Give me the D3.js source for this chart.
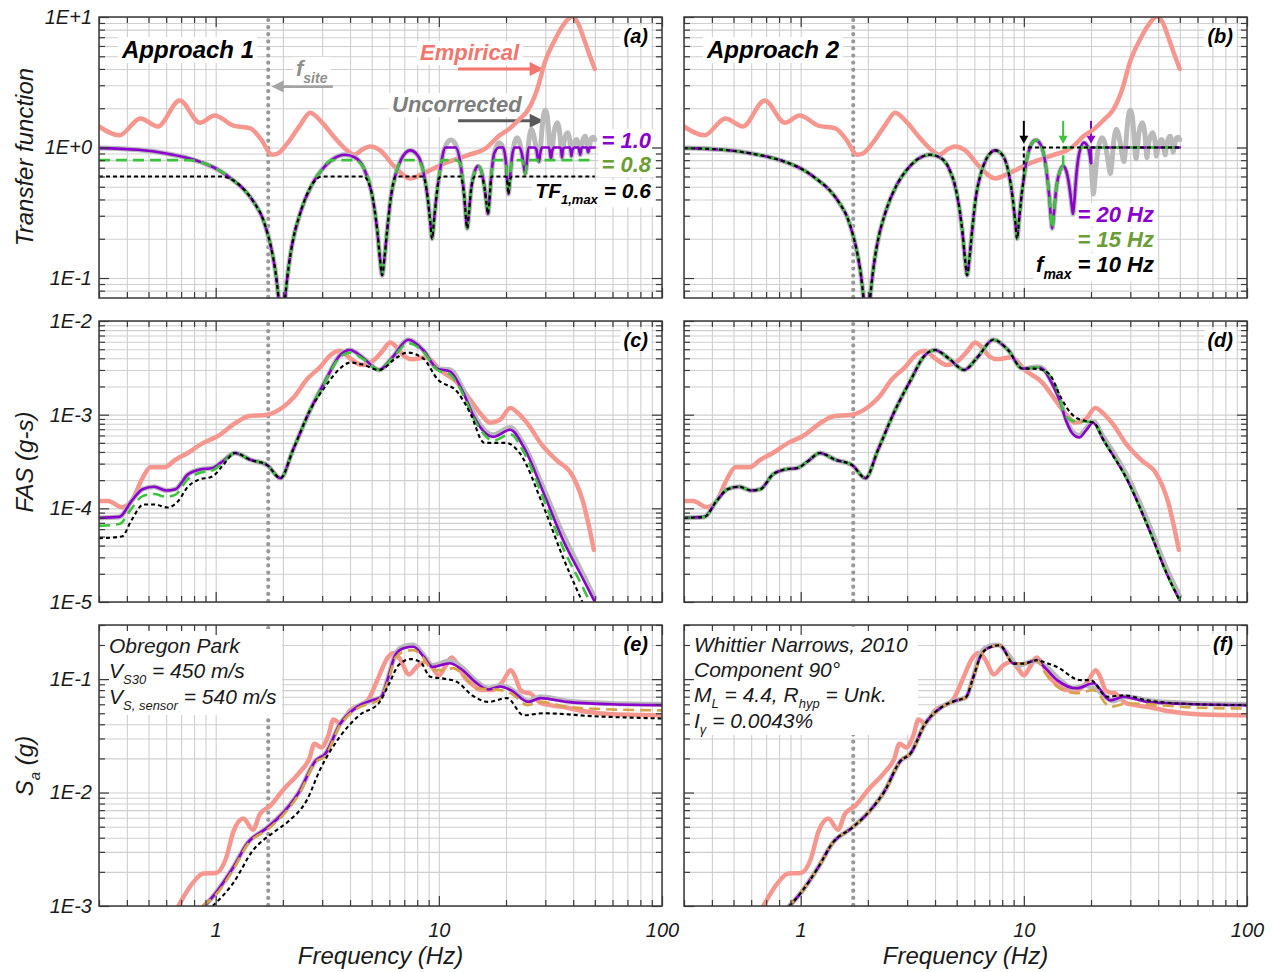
<!DOCTYPE html>
<html>
<head>
<meta charset="utf-8">
<script src="https://cdn.jsdelivr.net/npm/d3@7"></script>
<style>
  body { margin: 0; background: #fff; }
  svg text { font-family: "Liberation Sans", Arial, sans-serif; font-style: italic; }
</style>
</head>
<body>
<svg id="chart" width="1274" height="972"></svg>
<script>
// ---------------- data (frequency in Hz, value) ----------------
var fSite = 1.72;
var tfMaxLevels = [1.0, 0.8, 0.6];   // approach 1
var fMaxLevels = [20, 15, 10];       // approach 2

var tfEmpirical = [[0.3,1.45],[0.37,1.24],[0.46,1.67],[0.55,1.45],[0.69,2.29],[0.85,1.55],[0.99,1.76],[1.2,1.47],
  [1.43,1.4],[1.6,1.15],[1.79,0.88],[1.9,0.9],[2.09,1.07],[2.4,1.5],[2.65,1.85],[3.02,1.53],[3.4,1.2],[3.88,0.95],
  [4.17,0.88],[4.6,0.98],[4.92,1.02],[5.46,0.95],[6.3,0.72],[7.44,0.58],[8.5,0.63],[10.5,0.75],[13.4,0.87],
  [16.4,1.0],[18.5,1.22],[21,1.42],[23,1.65],[25,1.92],[27.5,2.75],[30,4.6],[33,6.6],[36,8.6],[39.6,10.1],
  [42,9.0],[44.4,7.0],[47,5.3],[50,4.0]];

var tfUncorrected = [[0.3,0.99],[0.45,0.96],[0.6,0.9],[0.75,0.83],[0.9,0.75],[1.05,0.66],[1.2,0.56],[1.35,0.47],
  [1.5,0.37],[1.62,0.29],[1.72,0.21],[1.8,0.15],[1.87,0.1],[1.92,0.065],[1.96,0.04],[2.0,0.045],[2.05,0.072],
  [2.12,0.12],[2.2,0.18],[2.4,0.32],[2.7,0.52],[3.0,0.68],[3.3,0.8],[3.8,0.88],[4.2,0.84],[4.6,0.7],[5.0,0.45],
  [5.3,0.23],[5.45,0.14],[5.57,0.105],[5.7,0.14],[5.85,0.22],[6.1,0.42],[6.4,0.62],[6.8,0.82],[7.45,0.95],
  [8.0,0.88],[8.5,0.67],[8.9,0.42],[9.15,0.27],[9.33,0.2],[9.5,0.27],[9.8,0.45],[10.0,0.58],[10.3,0.8],
  [10.7,1.02],[11.3,1.14],[11.9,1.05],[12.5,0.75],[13.0,0.42],[13.25,0.28],[13.4,0.24],[13.6,0.3],[14.0,0.5],
  [14.5,0.66],[15.0,0.72],[15.5,0.66],[16.0,0.5],[16.4,0.36],[16.6,0.31],[16.8,0.37],[17.2,0.62],[17.7,0.9],
  [18.6,1.09],[19.4,1.0],[20.0,0.76],[20.3,0.52],[20.5,0.44],[20.8,0.56],[21.3,0.86],[21.8,1.08],[22.4,1.19],
  [23.0,1.1],[23.6,0.88],[24.1,0.7],[24.4,0.63],[24.7,0.72],[25.2,1.05],[25.6,1.28],[26.0,1.38],[26.6,1.25],
  [27.3,0.98],[27.8,0.82],[28.1,0.78],[28.4,0.88],[28.9,1.3],[29.5,1.8],[30.0,1.94],[30.6,1.75],[31.2,1.2],
  [31.8,0.82],[32.2,0.95],[32.8,1.3],[33.9,1.55],[34.8,1.3],[35.3,0.98],[35.6,0.84],[36.0,0.98],[36.8,1.2],
  [37.8,1.3],[38.6,1.15],[39.0,0.95],[39.3,0.86],[39.7,0.96],[40.5,1.1],[41.5,1.15],[42.3,1.05],[43.0,0.88],
  [43.6,1.02],[44.5,1.18],[45.3,1.22],[46.1,1.08],[46.7,0.92],[47.3,1.02],[48.3,1.18],[49.3,1.2],[50,1.15]];

var fasEmpirical = [[0.3,1.2e-4],[0.33,1.2e-4],[0.38,1.03e-4],[0.42,1.2e-4],[0.47,2.1e-4],[0.51,2.75e-4],
  [0.59,2.75e-4],[0.66,3.3e-4],[0.75,3.9e-4],[0.88,5.0e-4],[1.01,5.8e-4],[1.25,8.4e-4],[1.4,9.6e-4],[1.7,1.0e-3],
  [2.0,1.2e-3],[2.25,1.55e-3],[2.57,2.4e-3],[2.93,3.2e-3],[3.3,4.4e-3],[3.6,4.8e-3],[4.0,4.0e-3],[4.5,3.4e-3],
  [5.1,3.8e-3],[5.6,4.8e-3],[6.05,5.9e-3],[6.5,5.2e-3],[7.0,4.2e-3],[7.6,3.9e-3],[8.8,4.1e-3],[10.1,3.0e-3],
  [12.1,2.2e-3],[13.8,1.45e-3],[15.5,1.0e-3],[17.0,8.2e-4],[18.9,8.9e-4],[20.9,1.18e-3],[23,1.0e-3],
  [25.5,7.5e-4],[28.5,5.0e-4],[34,3.2e-4],[38.5,2.5e-4],[41.5,1.8e-4],[44.4,1.15e-4],[47,6.5e-5],[49.5,3.6e-5]];

// shared pieces of the corrected FAS curves
var fasLowFull = [[0.3,7.9e-5],[0.37,8.1e-5],[0.42,1.2e-4],[0.47,1.6e-4],[0.53,1.7e-4],[0.6,1.55e-4],
  [0.66,1.6e-4],[0.75,2.3e-4],[0.85,2.6e-4],[0.97,2.7e-4],[1.08,3.2e-4],[1.22,3.9e-4]];
var fasLow08 = [[0.3,6.5e-5],[0.37,6.8e-5],[0.42,1.0e-4],[0.47,1.35e-4],[0.53,1.42e-4],[0.6,1.33e-4],
  [0.66,1.4e-4],[0.75,2.05e-4],[0.85,2.4e-4],[0.97,2.55e-4],[1.08,3.1e-4],[1.22,3.9e-4]];
var fasLow06 = [[0.3,4.8e-5],[0.38,5.0e-5],[0.42,7.5e-5],[0.475,1.1e-4],[0.53,1.1e-4],[0.61,1.02e-4],
  [0.68,1.2e-4],[0.75,1.7e-4],[0.83,2.0e-4],[0.97,2.2e-4],[1.08,2.9e-4],[1.22,3.9e-4]];
var fasMid = [[1.43,3.3e-4],[1.7,2.9e-4],[1.95,2.1e-4],[2.22,4.2e-4],[2.65,1.12e-3]];
var fasPeakFull = [[3.1,2.3e-3],[3.6,4.3e-3],[4.0,4.9e-3],[4.6,4.0e-3],[5.4,3.0e-3],[6.2,4.1e-3],
  [7.3,6.3e-3],[8.5,4.9e-3],[9.85,3.1e-3]];

var fasA1Tf10High = [[11.2,2.9e-3],[12.9,1.7e-3],[14.2,1.0e-3],[15.3,7.4e-4],[17.5,5.8e-4],[20.9,6.9e-4],
  [24,4.5e-4],[29.5,1.45e-4],[36,4.6e-5],[44.4,1.74e-5],[50,1.0e-5]];
var fasA1Tf08High = [[3.1,2.25e-3],[3.6,4.1e-3],[4.0,4.6e-3],[4.6,3.9e-3],[5.4,3.0e-3],[6.2,4.0e-3],
  [7.3,5.8e-3],[8.5,4.7e-3],[9.85,3.0e-3],[11.2,2.7e-3],[12.9,1.6e-3],[14.2,9.5e-4],[15.3,7.0e-4],
  [17.5,5.3e-4],[20.9,6.2e-4],[24,4.0e-4],[29.5,1.25e-4],[36,3.8e-5],[44.4,1.4e-5],[47.5,1.0e-5]];
var fasA1Tf06High = [[3.1,2.0e-3],[3.6,3.1e-3],[4.0,3.6e-3],[4.6,3.4e-3],[5.4,3.0e-3],[6.5,4.1e-3],
  [7.2,4.6e-3],[8.5,4.0e-3],[9.85,2.4e-3],[12.1,1.75e-3],[13.8,1.05e-3],[16,5.0e-4],[20,5.0e-4],
  [23,3.9e-4],[29.5,1.03e-4],[36,3.0e-5],[44,1.0e-5]];
var fasUncorrHighC = [[11.2,3.02e-3],[12.9,1.82e-3],[14.2,1.07e-3],[15.3,7.8e-4],[17.5,6.1e-4],
  [20.9,7.3e-4],[24,4.8e-4],[29.5,1.62e-4],[36,5.3e-5],[44.4,1.95e-5],[50,1.1e-5]];

var fasA2Tail = [[22.7,5.4e-4],[29.1,2.0e-4],[36.9,5.5e-5],[43.5,2.05e-5],[49.8,1.05e-5]];
var fasA2F20High = [[11.6,3.2e-3],[12.3,3.0e-3],[13.3,2.2e-3],[14.5,1.4e-3],[15.5,8.5e-4],[16.5,6.3e-4],
  [17.7,5.7e-4],[19,6.8e-4],[20.4,8.2e-4]];
var fasA2F15High = [[11.6,3.2e-3],[12.3,3.0e-3],[13.7,2.2e-3],[15.5,9.5e-4],[17,8.5e-4],[19.6,8.4e-4],
  [20.6,8.2e-4]];
var fasA2F10High = [[11.0,3.1e-3],[12.1,3.0e-3],[13.2,2.6e-3],[14.6,1.55e-3],[16.9,9.5e-4],[19.6,8.4e-4],
  [20.6,8.2e-4]];
var fasUncorrHighD = [[11.6,3.25e-3],[12.3,3.05e-3],[13.3,2.25e-3],[14.5,1.45e-3],[15.5,8.8e-4],
  [16.5,6.6e-4],[17.7,6.0e-4],[19,7.1e-4],[20.4,8.5e-4],[22.7,5.8e-4],[29.1,2.2e-4],[36.9,6.2e-5],
  [43.5,2.3e-5],[50,1.15e-5]];

var saEmpirical = [[0.68,1.0e-3],[0.79,1.6e-3],[0.88,1.93e-3],[1.0,1.95e-3],[1.11,2.6e-3],[1.2,4.5e-3],
  [1.33,5.9e-3],[1.47,4.7e-3],[1.58,6.5e-3],[1.75,7.6e-3],[2.0,1.05e-2],[2.37,1.5e-2],[2.63,2.0e-2],
  [2.77,2.7e-2],[2.97,2.5e-2],[3.2,3.2e-2],[3.37,4.4e-2],[3.6,4.1e-2],[4.0,5.3e-2],[4.8,6.5e-2],[5.3,9.8e-2],
  [5.9,0.155],[6.3,0.17],[6.7,0.15],[7.35,0.11],[8.0,0.13],[8.8,0.142],[9.4,0.125],[10,0.108],[10.7,0.13],
  [11.4,0.155],[12,0.14],[13,0.105],[14.3,0.088],[15.5,0.08],[17.3,0.08],[19.3,0.095],[21.0,0.12],
  [22.2,0.1],[23.2,0.08],[24.5,0.076],[25.7,0.075],[27,0.068],[28.5,0.062],[31.5,0.059],[37.6,0.056],
  [45,0.052],[60,0.049],[100,0.048]];
var saLow = [[0.89,1.0e-3],[1.0,1.3e-3],[1.2,2.2e-3],[1.39,3.6e-3],[1.7,4.9e-3],[2.0,6.6e-3],[2.37,1.02e-2],
  [2.8,1.9e-2],[3.1,2.2e-2],[3.6,4.0e-2],[4.3,5.7e-2],[5.0,6.5e-2],[5.5,6.9e-2]];
var saA1Tf10High = [[5.9,0.1],[6.4,0.165],[7.0,0.188],[7.7,0.193],[8.5,0.16],[9.4,0.128],[11.2,0.138],
  [12.5,0.124],[14.8,0.092],[16.7,0.081],[18.8,0.086],[21,0.08],[25.2,0.063],[28.5,0.068],[37.6,0.063],
  [60,0.06],[100,0.059]];
var saA1Tf08 = [[0.87,1.0e-3],[1.0,1.25e-3],[1.2,2.1e-3],[1.39,3.5e-3],[1.7,4.7e-3],[2.0,6.3e-3],
  [2.37,9.8e-3],[2.8,1.85e-2],[3.1,2.1e-2],[3.6,3.9e-2],[4.3,5.5e-2],[5.4,6.6e-2],[5.9,9.4e-2],[6.4,0.155],
  [7.0,0.175],[7.7,0.18],[8.5,0.155],[9.4,0.12],[10.5,0.12],[11.6,0.125],[12.5,0.115],[14.8,0.083],
  [18.8,0.08],[21,0.075],[25,0.059],[28.5,0.063],[37.6,0.057],[60,0.054],[100,0.053]];
var saA1Tf06 = [[0.97,1.0e-3],[1.2,1.6e-3],[1.47,3.1e-3],[1.8,4.4e-3],[2.1,5.5e-3],[2.57,8.7e-3],
  [2.93,1.58e-2],[3.6,3.1e-2],[4.4,4.8e-2],[5.4,6.2e-2],[6.0,9.2e-2],[6.6,0.133],[7.5,0.15],[8.25,0.142],
  [9.15,0.105],[10.5,0.101],[12.0,0.095],[14.1,0.072],[16.7,0.063],[20.2,0.068],[24,0.048],[29.5,0.05],
  [50,0.047],[100,0.045]];
var saA2Peak = [[5.9,0.1],[6.4,0.16],[7.0,0.19],[7.8,0.199],[9.0,0.137],[10.0,0.137],[11.4,0.147]];
var saA2F20High = [[12.5,0.125],[14.1,0.098],[17.3,0.083],[20.5,0.092],[24.4,0.065],[28,0.07],[35.6,0.063],
  [60,0.06],[100,0.059]];
var saA2F15High = [[12.5,0.112],[14.1,0.086],[17.3,0.075],[20.5,0.08],[24.4,0.057],[28.8,0.061],[60,0.056],
  [100,0.055]];
var saA2F10High = [[12.5,0.14],[14.1,0.128],[17.9,0.098],[19.9,0.098],[23.6,0.07],[28,0.072],[35.6,0.065],
  [60,0.06],[100,0.059]];
var saUncorrHigh = [[5.9,0.1],[6.4,0.168],[7.0,0.195],[7.7,0.2],[8.5,0.165],[9.4,0.132],[11.2,0.145],
  [12.5,0.13],[14.8,0.095],[16.7,0.083],[18.8,0.088],[21,0.082],[25.2,0.064],[28.5,0.07],[37.6,0.064],
  [60,0.061],[100,0.06]];

// ---------------- layout ----------------
var svg = d3.select("#chart");
var xDomain = [0.3, 100];
var colLeft = [99, 684], plotW = 563;
var rowTop = [17, 321, 625], plotH = 281;
var yDomains = [[0.0703, 10], [1e-5, 1e-2], [1e-3, 0.3]];

var col = { emp: "#f5968f", unc: "#bababa", purple: "#8a00cc", green: "#3cc43c", black: "#000",
            tan: "#d6a24a", oliveText: "#6b9e34", empText: "#f2756e", uncText: "#7d7d7d" };
var st = {
  emp:    { c: col.emp, w: 4.5 },
  unc:    { c: col.unc, w: 5 },
  purple: { c: col.purple, w: 2.6 },
  green:  { c: col.green, w: 2.6, dash: "11,6" },
  tan:    { c: col.tan, w: 2.6, dash: "11,6" },
  black:  { c: col.black, w: 2.1, dash: "4,3" }
};

var defs = svg.append("defs");
var layers = {};
["grid", "annot", "curves", "frame", "text"].forEach(function (n) { layers[n] = svg.append("g"); });

function logTicks(dom) {
  var out = [];
  var lo = Math.floor(Math.log10(dom[0])), hi = Math.ceil(Math.log10(dom[1]));
  for (var e = lo; e <= hi; e++) for (var k = 1; k <= 9; k++) {
    var v = +(k * Math.pow(10, e)).toPrecision(6);
    if (v >= dom[0] * 0.9999 && v <= dom[1] * 1.0001) out.push(v);
  }
  return out;
}
function isDecade(v) { var l = Math.log10(v); return Math.abs(l - Math.round(l)) < 1e-6; }
function eLabel(v) { var e = Math.round(Math.log10(v)); return "1E" + (e >= 0 ? "+" : "-") + Math.abs(e); }

function makePanel(c, r, name) {
  var p = { ox: colLeft[c], oy: rowTop[r] };
  p.x = d3.scaleLog().domain(xDomain).range([0, plotW]);
  p.y = d3.scaleLog().domain(yDomains[r]).range([plotH, 0]);
  p.px = function (f) { return p.ox + p.x(f); };
  p.py = function (v) { return p.oy + p.y(v); };
  var tr = "translate(" + p.ox + "," + p.oy + ")";
  defs.append("clipPath").attr("id", "clip-" + name).append("rect").attr("width", plotW).attr("height", plotH);

  var xt = logTicks(xDomain), yt = logTicks(p.y.domain());
  var grid = layers.grid.append("g").attr("transform", tr);
  grid.append("g").attr("transform", "translate(0," + plotH + ")")
    .call(d3.axisBottom(p.x).tickValues(xt).tickSize(-plotH).tickFormat(""));
  grid.append("g").call(d3.axisLeft(p.y).tickValues(yt).tickSize(-plotW).tickFormat(""));
  grid.selectAll(".domain").remove();
  grid.selectAll("line").attr("stroke", "#cfcfcf").attr("stroke-width", 1.1);

  // f_site dotted line
  grid.append("line").attr("x1", p.x(fSite)).attr("x2", p.x(fSite)).attr("y1", 3).attr("y2", plotH)
    .attr("stroke", "#999").attr("stroke-width", 4.2).attr("stroke-linecap", "round")
    .attr("stroke-dasharray", "0.1,7");

  p.curves = layers.curves.append("g").attr("transform", tr).attr("clip-path", "url(#clip-" + name + ")");

  var fr = layers.frame.append("g").attr("transform", tr);
  [[xt.filter(isDecade), 10], [xt.filter(function (v) { return !isDecade(v); }), 6]].forEach(function (s) {
    fr.append("g").attr("transform", "translate(0," + plotH + ")")
      .call(d3.axisBottom(p.x).tickValues(s[0]).tickSize(-s[1]).tickFormat(""));
    fr.append("g").call(d3.axisTop(p.x).tickValues(s[0]).tickSize(-s[1]).tickFormat(""));
  });
  [[yt.filter(isDecade), 10], [yt.filter(function (v) { return !isDecade(v); }), 6]].forEach(function (s) {
    fr.append("g").call(d3.axisLeft(p.y).tickValues(s[0]).tickSize(-s[1]).tickFormat(""));
    fr.append("g").attr("transform", "translate(" + plotW + ",0)")
      .call(d3.axisRight(p.y).tickValues(s[0]).tickSize(-s[1]).tickFormat(""));
  });
  fr.selectAll(".domain").remove();
  fr.selectAll("line").attr("stroke", "#3a3a3a").attr("stroke-width", 1.2);
  fr.append("rect").attr("width", plotW).attr("height", plotH).attr("fill", "none")
    .attr("stroke", "#3a3a3a").attr("stroke-width", 1.5);

  var tx = layers.text.append("g").attr("transform", tr);
  if (c === 0) {
    var ya = tx.append("g").call(d3.axisLeft(p.y).tickValues(yt.filter(isDecade)).tickSize(0).tickPadding(7).tickFormat(eLabel));
    ya.select(".domain").remove();
    ya.attr("font-size", 20).attr("font-family", null);
    ya.selectAll("text").attr("fill", "#1a1a1a");
  }
  if (r === 2) {
    var xa = tx.append("g").attr("transform", "translate(0," + plotH + ")")
      .call(d3.axisBottom(p.x).tickValues([1, 10, 100]).tickSize(0).tickPadding(17).tickFormat(d3.format("d")));
    xa.select(".domain").remove();
    xa.attr("font-size", 20).attr("font-family", null);
    xa.selectAll("text").attr("fill", "#1a1a1a");
    tx.append("text").attr("x", plotW / 2).attr("y", plotH + 58).attr("text-anchor", "middle")
      .attr("font-size", 24).attr("fill", "#1a1a1a").text("Frequency (Hz)");
  }
  return p;
}

function drawLine(p, data, s, linear) {
  var line = d3.line().x(function (d) { return p.x(d[0]); }).y(function (d) { return p.y(d[1]); })
    .curve(linear ? d3.curveLinear : d3.curveMonotoneX);
  p.curves.append("path").datum(data).attr("d", line).attr("fill", "none")
    .attr("stroke", s.c).attr("stroke-width", s.w).attr("stroke-linejoin", "round")
    .attr("stroke-linecap", s.dash ? "butt" : "round").attr("stroke-dasharray", s.dash || null);
}

// text with optional subscripts: parts = [[text, isSub], ...]
function label(parent, x, y, parts, o) {
  var t = parent.append("text").attr("x", x).attr("y", y).attr("font-size", o.size)
    .attr("font-weight", o.bold ? "bold" : "normal").attr("fill", o.color || "#000")
    .attr("text-anchor", o.anchor || "start");
  var shift = 0;
  parts.forEach(function (pt) {
    var ts = t.append("tspan").text(pt[0]);
    if (pt[1]) { ts.attr("font-size", Math.round(o.size * 0.64)).attr("dy", o.size * 0.3 - shift); shift = o.size * 0.3; }
    else if (shift) { ts.attr("dy", -shift); shift = 0; }
  });
  if (o.bg) {
    var b = t.node().getBBox();
    parent.insert("rect", function () { return t.node(); })
      .attr("x", b.x - 3).attr("y", b.y + 1).attr("width", b.width + 6).attr("height", b.height - 1).attr("fill", "#fff");
  }
  return t;
}

function arrow(x1, y1, x2, y2, color, w, hl, hw) {
  var dx = x2 - x1, dy = y2 - y1, L = Math.sqrt(dx * dx + dy * dy), ux = dx / L, uy = dy / L;
  var bx = x2 - ux * hl, by = y2 - uy * hl;
  layers.annot.append("line").attr("x1", x1).attr("y1", y1).attr("x2", bx + ux).attr("y2", by + uy)
    .attr("stroke", color).attr("stroke-width", w);
  layers.annot.append("path").attr("fill", color)
    .attr("d", "M" + x2 + "," + y2 + "L" + (bx - uy * hw) + "," + (by + ux * hw) + "L" + (bx + uy * hw) + "," + (by - ux * hw) + "Z");
}

var A = layers.annot;
function panelTag(p, s) {
  label(A, p.ox + plotW - 14, p.oy + 26, [[s]], { size: 20, bold: true, anchor: "end", bg: true });
}

// ---------------- (a) ----------------
var pa = makePanel(0, 0, "a");
drawLine(pa, tfEmpirical, st.emp);
drawLine(pa, tfUncorrected, st.unc);
[st.purple, st.green, st.black].forEach(function (s, i) {
  var cap = tfMaxLevels[i];
  drawLine(pa, tfUncorrected.map(function (d) { return [d[0], Math.min(d[1], cap)]; }), s);
});
label(A, 122, 58, [["Approach 1"]], { size: 24, bold: true, bg: true });
panelTag(pa, "(a)");
label(A, 296, 76, [["f"], ["site", true]], { size: 22, bold: true, color: "#8f8f8f", bg: true });
arrow(pa.px(3.35), pa.py(2.93), pa.px(1.78), pa.py(2.93), "#a4a4a4", 2.6, 12, 6);
label(A, 420, 60, [["Empirical"]], { size: 22, bold: true, color: col.empText, bg: true });
arrow(pa.px(12.2), pa.py(4.0), pa.px(29.5), pa.py(4.0), "#f2756e", 3, 14, 7);
label(A, 392, 112, [["Uncorrected"]], { size: 22, bold: true, color: col.uncText, bg: true });
arrow(pa.px(12.2), pa.py(1.6), pa.px(29.5), pa.py(1.6), "#5a5a5a", 3, 14, 7);
label(A, 651, 148, [["= 1.0"]], { size: 22, bold: true, anchor: "end", color: col.purple, bg: true });
label(A, 651, 172, [["= 0.8"]], { size: 22, bold: true, anchor: "end", color: col.oliveText, bg: true });
label(A, 651, 198, [["TF"], ["1,max", true], [" = 0.6"]], { size: 21, bold: true, anchor: "end", bg: true });

// ---------------- (b) ----------------
var pb = makePanel(1, 0, "b");
drawLine(pb, tfEmpirical, st.emp);
drawLine(pb, tfUncorrected, st.unc);
[st.purple, st.green, st.black].forEach(function (s, i) {
  var fm = fMaxLevels[i];
  var part = tfUncorrected.filter(function (d) { return d[0] <= fm; });
  var last = part[part.length - 1];
  drawLine(pb, part, s);
  drawLine(pb, [last, [fm, 1.0], [50, 1.0]], s, true);
});
label(A, 707, 58, [["Approach 2"]], { size: 24, bold: true, bg: true });
panelTag(pb, "(b)");
[col.purple, col.green, col.black].forEach(function (c, i) {
  var fm = fMaxLevels[i];
  arrow(pb.px(fm), pb.py(1.6), pb.px(fm), pb.py(1.07), c, 2, 8, 4.5);
});
label(A, 1154, 222, [["= 20 Hz"]], { size: 22, bold: true, anchor: "end", color: col.purple, bg: true });
label(A, 1154, 247, [["= 15 Hz"]], { size: 22, bold: true, anchor: "end", color: col.oliveText, bg: true });
label(A, 1154, 272, [["f"], ["max", true], [" = 10 Hz"]], { size: 22, bold: true, anchor: "end", bg: true });

// ---------------- (c) ----------------
var pc = makePanel(0, 1, "c");
drawLine(pc, fasEmpirical, st.emp);
drawLine(pc, fasLowFull.concat(fasMid, fasPeakFull, fasUncorrHighC), st.unc);
drawLine(pc, fasLowFull.concat(fasMid, fasPeakFull, fasA1Tf10High), st.purple);
drawLine(pc, fasLow08.concat(fasMid, fasA1Tf08High), st.green);
drawLine(pc, fasLow06.concat(fasMid, fasA1Tf06High), st.black);
panelTag(pc, "(c)");

// ---------------- (d) ----------------
var pd = makePanel(1, 1, "d");
drawLine(pd, fasEmpirical, st.emp);
drawLine(pd, fasLowFull.concat(fasMid, fasPeakFull, fasUncorrHighD), st.unc);
drawLine(pd, fasLowFull.concat(fasMid, fasPeakFull, fasA2F20High, fasA2Tail), st.purple);
drawLine(pd, fasLowFull.concat(fasMid, fasPeakFull, fasA2F15High, fasA2Tail), st.green);
drawLine(pd, fasLowFull.concat(fasMid, fasPeakFull, fasA2F10High, fasA2Tail), st.black);
panelTag(pd, "(d)");

// ---------------- (e) ----------------
var pe = makePanel(0, 2, "e");
A.append("rect").attr("x", 101).attr("y", 629).attr("width", 181).attr("height", 86).attr("fill", "#fff");
label(A, 109, 653, [["Obregon Park"]], { size: 21, color: "#1a1a1a" });
label(A, 109, 678, [["V"], ["S30", true], [" = 450 m/s"]], { size: 21, color: "#1a1a1a" });
label(A, 109, 704, [["V"], ["S, sensor", true], [" = 540 m/s"]], { size: 21, color: "#1a1a1a" });
drawLine(pe, saEmpirical, st.emp);
drawLine(pe, saLow.concat(saUncorrHigh), st.unc);
drawLine(pe, saLow.concat(saA1Tf10High), st.purple);
drawLine(pe, saA1Tf08, st.tan);
drawLine(pe, saA1Tf06, st.black);
panelTag(pe, "(e)");

// ---------------- (f) ----------------
var pf = makePanel(1, 2, "f");
A.append("rect").attr("x", 686).attr("y", 627).attr("width", 232).attr("height", 108).attr("fill", "#fff");
label(A, 694, 652, [["Whittier Narrows, 2010"]], { size: 21, color: "#1a1a1a" });
label(A, 694, 677, [["Component 90°"]], { size: 21, color: "#1a1a1a" });
label(A, 694, 702, [["M"], ["L", true], [" = 4.4, R"], ["hyp", true], [" = Unk."]], { size: 21, color: "#1a1a1a" });
label(A, 694, 728, [["I"], ["γ", true], [" = 0.0043%"]], { size: 21, color: "#1a1a1a" });
drawLine(pf, saEmpirical, st.emp);
drawLine(pf, saLow.concat(saUncorrHigh), st.unc);
drawLine(pf, saLow.concat(saA2Peak, saA2F20High), st.purple);
drawLine(pf, saLow.concat(saA2Peak, saA2F15High), st.tan);
drawLine(pf, saLow.concat(saA2Peak, saA2F10High), st.black);
panelTag(pf, "(f)");

// ---------------- axis titles ----------------
var T = layers.text;
label(T.append("g").attr("transform", "translate(33,157) rotate(-90)"), 0, 0, [["Transfer function"]], { size: 24, anchor: "middle", color: "#1a1a1a" });
label(T.append("g").attr("transform", "translate(33,462) rotate(-90)"), 0, 0, [["FAS (g-s)"]], { size: 24, anchor: "middle", color: "#1a1a1a" });
label(T.append("g").attr("transform", "translate(33,766) rotate(-90)"), 0, 0, [["S"], ["a", true], [" (g)"]], { size: 24, anchor: "middle", color: "#1a1a1a" });
</script>
</body>
</html>
